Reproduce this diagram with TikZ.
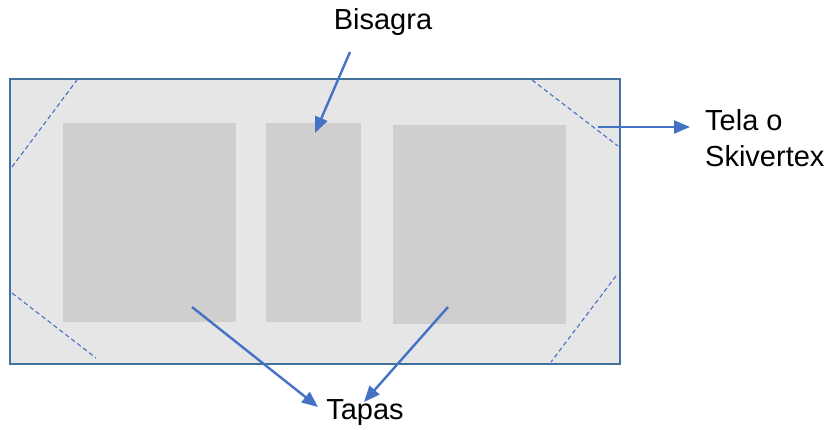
\documentclass[tikz,border=0pt]{standalone}
\usepackage{fontspec}
\setmainfont{Liberation Sans}
\usetikzlibrary{arrows.meta}
\definecolor{frameblue}{HTML}{41719C}
\definecolor{arrowblue}{HTML}{4472C4}
\definecolor{bgfill}{HTML}{E6E6E6}
\definecolor{panelfill}{HTML}{D0CECE}
\tikzset{
  framebox/.style={draw=frameblue, line width=2.6pt, fill=bgfill},
  panel/.style={fill=panelfill, draw=none},
  corner/.style={draw=arrowblue, line width=1.1pt, dash pattern=on 4.5pt off 3pt},
  pointer/.style={draw=arrowblue, line width=2.4pt, -{Triangle[length=16pt,width=13pt]}},
  lbl/.style={font=\fontsize{29}{36}\selectfont, text=black, inner sep=0pt}
}
\begin{document}
\begin{tikzpicture}[x=1pt,y=-1pt]
\useasboundingbox (0,0) rectangle (830,430);
% frame
\draw[framebox] (10,79) rectangle (620,364);
% panels
\fill[panel] (63,123) rectangle (236,322);
\fill[panel] (266,123) rectangle (361,322);
\fill[panel] (393,125) rectangle (566,324);
% dashed corners
\draw[corner] (12,167) -- (77,80);
\draw[corner] (12,293) -- (96,358);
\draw[corner] (532,80) -- (618,146);
\draw[corner] (616,276) -- (551,362);
% labels
\node[lbl] (bisagra) at (383,22) {Bisagra};
\node[lbl, align=left, anchor=west] (tela) at (705,138) {Tela o\\Skivertex};
\node[lbl] (tapas) at (365,413) {Tapas};
% coordinates
\coordinate (bstart) at (350,52);
\coordinate (btip) at (315,133);
\coordinate (tstart) at (598,127);
\coordinate (ttip) at (690,127);
\coordinate (lstart) at (192,307);
\coordinate (ltip) at (318,407);
\coordinate (rstart) at (448,307);
\coordinate (rtip) at (364,402);
% arrows
\draw[pointer] (bstart) -- (btip);
\draw[pointer] (tstart) -- (ttip);
\draw[pointer] (lstart) -- (ltip);
\draw[pointer] (rstart) -- (rtip);
\end{tikzpicture}
\end{document}
